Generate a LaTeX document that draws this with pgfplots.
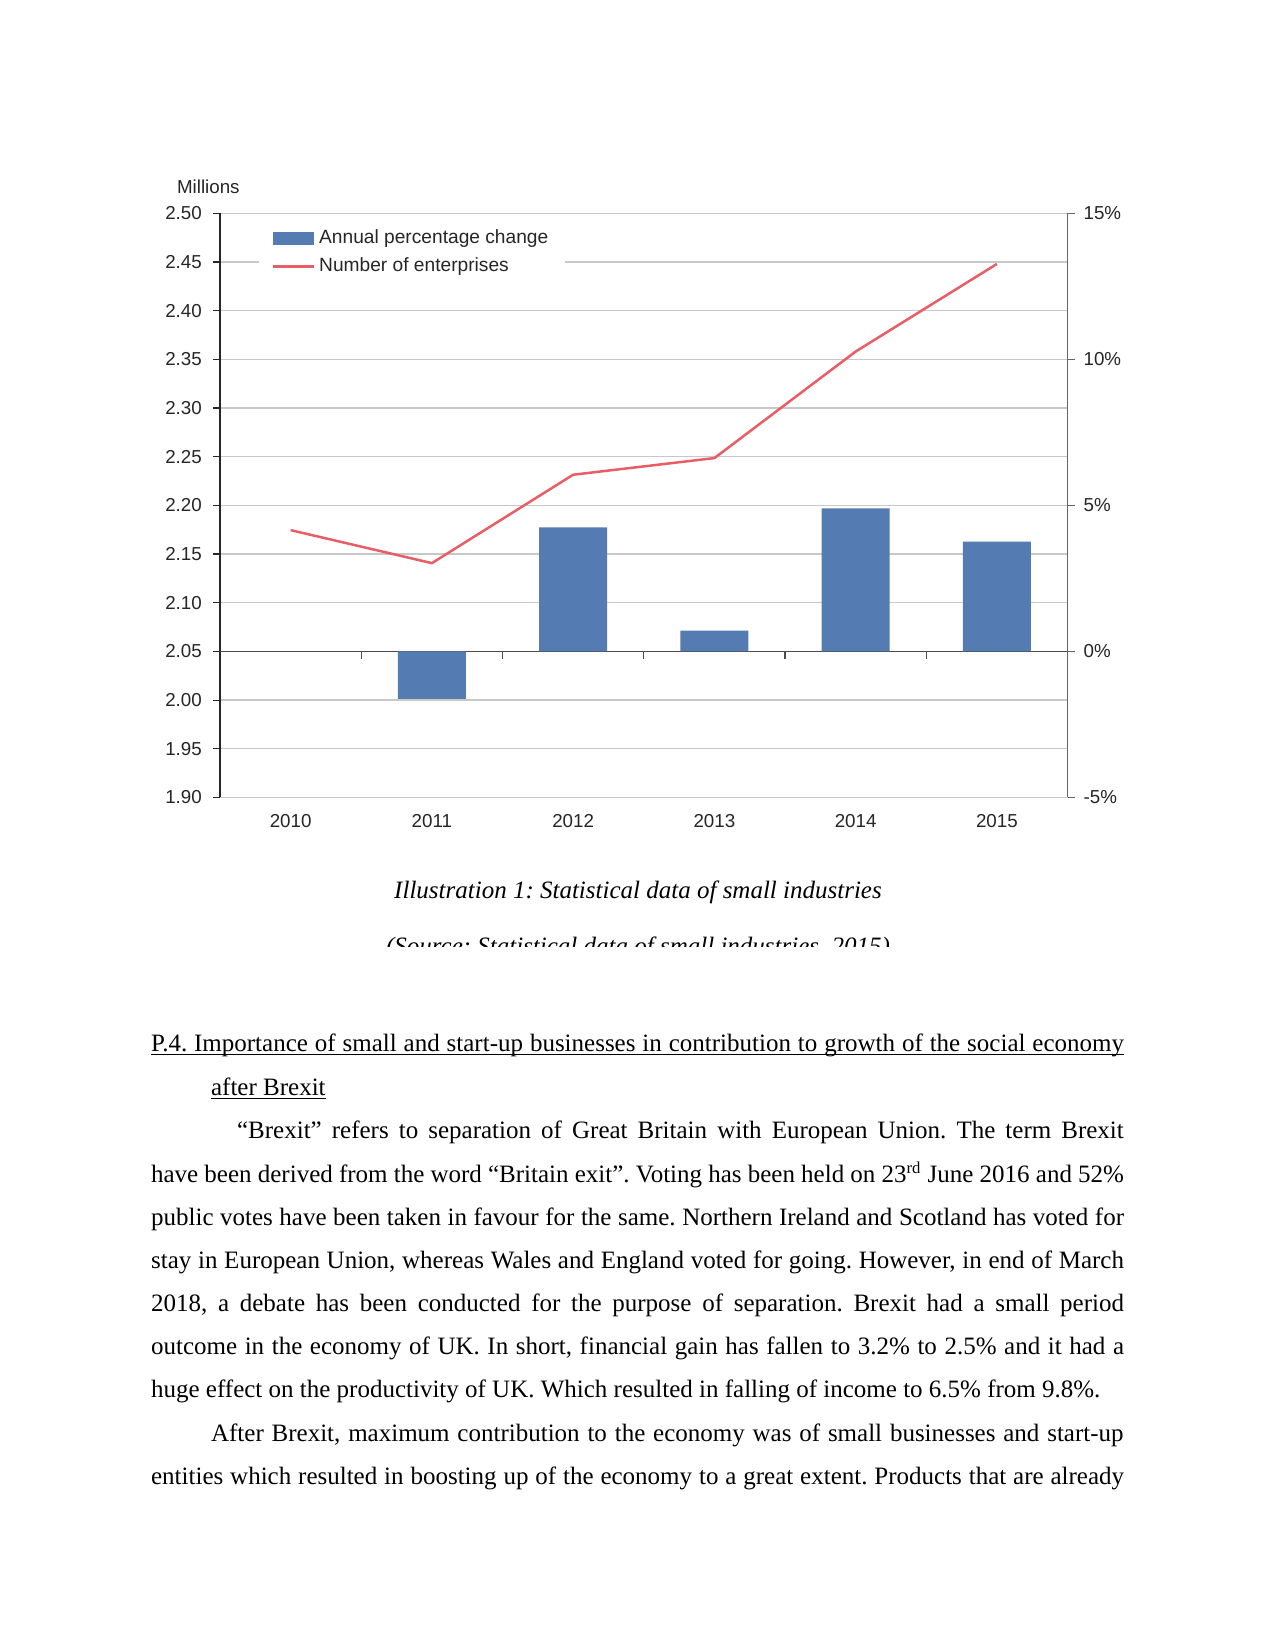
\documentclass[border=0pt]{standalone}
\usepackage{fontspec}
\setmainfont{Liberation Serif}
\setsansfont{Liberation Sans}
\usepackage{pgfplots}
\pgfplotsset{compat=1.18}
\definecolor{barblue}{RGB}{84,124,178}
\definecolor{linered}{RGB}{231,94,102}
\definecolor{gridgray}{RGB}{200,200,200}
\newcommand{\chartfont}{\sffamily\fontsize{9}{10.8}\selectfont}
\newcommand{\legfont}{\sffamily\fontsize{9.2}{10.8}\selectfont}
\newcommand{\bodyfont}{\fontsize{12}{14}\selectfont\frenchspacing}
\newcommand{\ulfull}[2]{\makebox[0pt][l]{\rule[-1.5pt]{#1}{0.6pt}}\makebox[#1][s]{#2}}
\newcommand{\ulnat}[1]{\setbox0\hbox{#1}\makebox[0pt][l]{\rule[-1.5pt]{\wd0}{0.6pt}}\box0}
\begin{document}
\frenchspacing
\begin{tikzpicture}
\useasboundingbox (0,0) rectangle (612pt,792pt);
\fill[white] (0,0) rectangle (612pt,792pt);
% left axis: number of enterprises (millions)
\begin{axis}[
  at={(105.6pt,409.2pt)}, anchor=south west,
  scale only axis, width=406.8pt, height=280.4pt,
  xmin=-0.5, xmax=5.5, ymin=1.9, ymax=2.5,
  axis x line*=bottom, axis y line*=left,
  x axis line style={draw=none},
  y axis line style={-, draw=black!85, line width=0.8pt},
  xtick={0,1,2,3,4,5}, xticklabels={2010,2011,2012,2013,2014,2015},
  xtick style={draw=none},
  ytick={1.90,1.95,2.00,2.05,2.10,2.15,2.20,2.25,2.30,2.35,2.40,2.45,2.50},
  yticklabels={1.90,1.95,2.00,2.05,2.10,2.15,2.20,2.25,2.30,2.35,2.40,2.45,2.50},
  ytick style={draw=black!85, line width=0.6pt},
  tick align=outside, major tick length=3.4pt,
  ymajorgrids, grid style={gridgray, line width=0.65pt},
  ticklabel style={font=\chartfont, text=black!85},
  xticklabel style={yshift=-1pt},
  yticklabel style={xshift=-1.8pt},
  clip=false,
]
\addplot[linered, line width=1.2pt] coordinates {(0,2.1746)(1,2.1407)(2,2.2315)(3,2.2486)(4,2.358)(5,2.448)};
\end{axis}
% right axis: annual percentage change
\begin{axis}[
  at={(105.6pt,409.2pt)}, anchor=south west,
  scale only axis, width=406.8pt, height=280.4pt,
  xmin=-0.5, xmax=5.5, ymin=-5, ymax=15,
  axis x line=middle, axis y line*=right,
  x axis line style={-, draw=black!70, line width=0.8pt},
  y axis line style={-, draw=black!60, line width=0.8pt},
  xtick={0.5,1.5,2.5,3.5,4.5}, xticklabels={},
  xtick style={draw=black!70, line width=0.6pt},
  ytick={-5,0,5,10,15}, yticklabels={-5\%,0\%,5\%,10\%,15\%},
  ytick style={draw=black!60, line width=0.6pt},
  tick align=outside, major tick length=3.4pt,
  ticklabel style={font=\chartfont, text=black!85},
  yticklabel style={xshift=0.8pt},
  ybar, bar width=32.6pt,
  legend style={at={(0.046,0.99)}, anchor=north west, draw=none, fill=white,
    font=\legfont, text=black!85, inner xsep=6pt, inner ysep=3pt, row sep=1.2pt},
  legend cell align=left,
]
\addplot[fill=barblue, draw=none,
  legend image code/.code={\fill[barblue] (0pt,-2.9pt) rectangle (19.5pt,2.9pt);}]
  coordinates {(1,-1.62)(2,4.25)(3,0.71)(4,4.9)(5,3.76)};
\addlegendentry{Annual percentage change}
\addlegendimage{legend image code/.code={\draw[linered,line width=1.2pt] (0pt,0pt) -- (19.5pt,0pt);}}
\addlegendentry{Number of enterprises}
\end{axis}
% page text, in pixel coordinates of the 1275x1650 page
\begin{scope}[x=0.48pt, y=-0.48pt, shift={(0pt,792pt)}]
\node[anchor=base west, inner sep=0, font=\chartfont, text=black!85] at (176.7,193.3) {Millions};
\node[anchor=base, inner sep=0, font=\bodyfont\itshape] at (638,898.3) {Illustration 1: Statistical data of small industries};
\begin{scope}
\clip (0,0) rectangle (1275,947);
\node[anchor=base, inner sep=0, font=\bodyfont\itshape] at (638,955) {(Source: Statistical data of small industries, 2015)};
\end{scope}
\node[anchor=base west, inner sep=0, font=\bodyfont] at (150.7,1051.7) {\ulfull{467pt}{P.4. Importance of small and start-up businesses in contribution to growth of the social economy}};
\node[anchor=base west, inner sep=0, font=\bodyfont] at (210.7,1096) {\ulnat{after Brexit}};
\node[anchor=base west, inner sep=0, font=\bodyfont] at (236.7,1139.0) {\makebox[425.6pt][s]{“Brexit” refers to separation of Great Britain with European Union. The term Brexit}};
\node[anchor=base west, inner sep=0, font=\bodyfont] at (150.7,1182.2) {\makebox[467pt][s]{have been derived from the word “Britain exit”. Voting has been held on 23\textsuperscript{rd} June 2016 and 52\%}};
\node[anchor=base west, inner sep=0, font=\bodyfont] at (150.7,1225.3) {\makebox[467pt][s]{public votes have been taken in favour for the same. Northern Ireland and Scotland has voted for}};
\node[anchor=base west, inner sep=0, font=\bodyfont] at (150.7,1268.5) {\makebox[467pt][s]{stay in European Union, whereas Wales and England voted for going. However, in end of March}};
\node[anchor=base west, inner sep=0, font=\bodyfont] at (150.7,1311.6) {\makebox[467pt][s]{2018, a debate has been conducted for the purpose of separation. Brexit had a small period}};
\node[anchor=base west, inner sep=0, font=\bodyfont] at (150.7,1354.8) {\makebox[467pt][s]{outcome in the economy of UK. In short, financial gain has fallen to 3.2\% to 2.5\% and it had a}};
\node[anchor=base west, inner sep=0, font=\bodyfont] at (150.7,1398.0) {huge effect on the productivity of UK. Which resulted in falling of income to 6.5\% from 9.8\%.};
\node[anchor=base west, inner sep=0, font=\bodyfont] at (210.7,1441.1) {\makebox[438pt][s]{After Brexit, maximum contribution to the economy was of small businesses and start-up}};
\node[anchor=base west, inner sep=0, font=\bodyfont] at (150.7,1484.3) {\makebox[467pt][s]{entities which resulted in boosting up of the economy to a great extent. Products that are already}};
\end{scope}
\end{tikzpicture}
\end{document}
